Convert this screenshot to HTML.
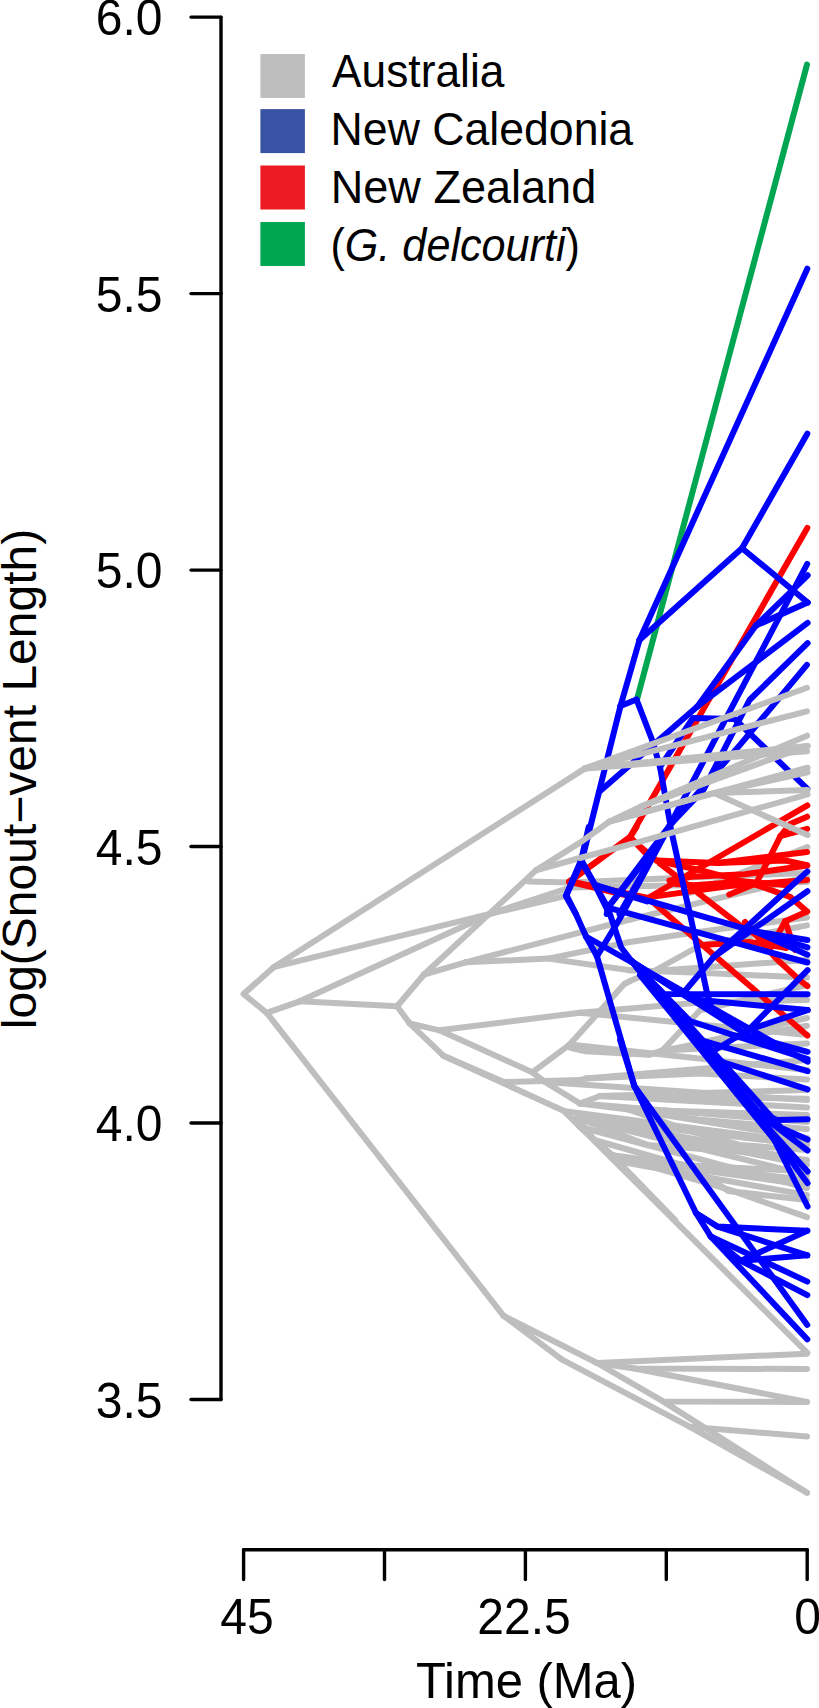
<!DOCTYPE html><html><head><meta charset="utf-8"><style>html,body{margin:0;padding:0;background:#fff;overflow:hidden}svg{display:block}</style></head><body><svg width="819" height="1708" viewBox="0 0 819 1708">
<rect width="819" height="1708" fill="#fff"/>
<path d="M273.6 967.2 L243.5 994.0 L266.7 1012.8" fill="none" stroke="#bebebe" stroke-width="6.0" stroke-linecap="round" stroke-linejoin="round"/>
<path d="M273.6 967.2 L585.0 768.4" fill="none" stroke="#bebebe" stroke-width="6.0" stroke-linecap="round" stroke-linejoin="round"/>
<path d="M273.6 967.2 L490.8 913.7 L562.8 896.6" fill="none" stroke="#bebebe" stroke-width="6.0" stroke-linecap="round" stroke-linejoin="round"/>
<path d="M266.7 1012.8 L299.7 1001.3" fill="none" stroke="#bebebe" stroke-width="6.0" stroke-linecap="round" stroke-linejoin="round"/>
<path d="M299.7 1001.3 L490.8 913.7" fill="none" stroke="#bebebe" stroke-width="6.0" stroke-linecap="round" stroke-linejoin="round"/>
<path d="M299.7 1001.3 L397.1 1006.3" fill="none" stroke="#bebebe" stroke-width="6.0" stroke-linecap="round" stroke-linejoin="round"/>
<path d="M397.1 1006.3 L424.0 974.5" fill="none" stroke="#bebebe" stroke-width="6.0" stroke-linecap="round" stroke-linejoin="round"/>
<path d="M424.0 974.5 L535.9 870.4" fill="none" stroke="#bebebe" stroke-width="6.0" stroke-linecap="round" stroke-linejoin="round"/>
<path d="M424.0 974.5 L465.5 962.3" fill="none" stroke="#bebebe" stroke-width="6.0" stroke-linecap="round" stroke-linejoin="round"/>
<path d="M397.1 1006.3 L409.6 1023.3" fill="none" stroke="#bebebe" stroke-width="6.0" stroke-linecap="round" stroke-linejoin="round"/>
<path d="M545.0 1082.0 L807.0 1100.0" fill="none" stroke="#bebebe" stroke-width="6.0" stroke-linecap="round" stroke-linejoin="round"/>
<path d="M580.0 1103.5 L807.0 1122.0" fill="none" stroke="#bebebe" stroke-width="6.0" stroke-linecap="round" stroke-linejoin="round"/>
<path d="M564.6 1111.3 L807.0 1143.0" fill="none" stroke="#bebebe" stroke-width="6.0" stroke-linecap="round" stroke-linejoin="round"/>
<path d="M577.0 1118.0 L807.0 1165.0" fill="none" stroke="#bebebe" stroke-width="6.0" stroke-linecap="round" stroke-linejoin="round"/>
<path d="M580.0 1127.0 L807.0 1188.0" fill="none" stroke="#bebebe" stroke-width="6.0" stroke-linecap="round" stroke-linejoin="round"/>
<path d="M580.0 1127.0 L612.0 1155.2 L740.0 1172.3 L807.0 1180.0" fill="none" stroke="#bebebe" stroke-width="6.0" stroke-linecap="round" stroke-linejoin="round"/>
<path d="M612.0 1155.2 L675.2 1220.0" fill="none" stroke="#bebebe" stroke-width="6.0" stroke-linecap="round" stroke-linejoin="round"/>
<path d="M577.0 1118.0 L647.9 1145.0 L740.0 1151.8 L807.0 1160.0" fill="none" stroke="#bebebe" stroke-width="6.0" stroke-linecap="round" stroke-linejoin="round"/>
<path d="M628.4 1109.4 L690.6 1131.3 L740.0 1145.0 L807.0 1150.0" fill="none" stroke="#bebebe" stroke-width="6.0" stroke-linecap="round" stroke-linejoin="round"/>
<path d="M612.0 1155.2 L695.7 1168.9 L728.2 1191.1 L807.0 1200.0" fill="none" stroke="#bebebe" stroke-width="6.0" stroke-linecap="round" stroke-linejoin="round"/>
<path d="M594.2 1140.0 L620.5 1162.0 L740.0 1172.3" fill="none" stroke="#bebebe" stroke-width="6.0" stroke-linecap="round" stroke-linejoin="round"/>
<path d="M569.6 1044.6 L807.0 1070.0" fill="none" stroke="#bebebe" stroke-width="6.0" stroke-linecap="round" stroke-linejoin="round"/>
<path d="M580.0 1012.7 L807.0 1035.0" fill="none" stroke="#bebebe" stroke-width="6.0" stroke-linecap="round" stroke-linejoin="round"/>
<path d="M409.6 1023.3 L439.5 1030.3" fill="none" stroke="#bebebe" stroke-width="6.0" stroke-linecap="round" stroke-linejoin="round"/>
<path d="M439.5 1030.3 L580.0 1012.7" fill="none" stroke="#bebebe" stroke-width="6.0" stroke-linecap="round" stroke-linejoin="round"/>
<path d="M439.5 1030.3 L532.3 1072.3" fill="none" stroke="#bebebe" stroke-width="6.0" stroke-linecap="round" stroke-linejoin="round"/>
<path d="M532.3 1072.3 L569.6 1044.6" fill="none" stroke="#bebebe" stroke-width="6.0" stroke-linecap="round" stroke-linejoin="round"/>
<path d="M569.6 1044.6 L624.3 984.0 L630.0 981.0" fill="none" stroke="#bebebe" stroke-width="6.0" stroke-linecap="round" stroke-linejoin="round"/>
<path d="M569.6 1044.6 L600.0 1050.0 L630.0 1054.3" fill="none" stroke="#bebebe" stroke-width="6.0" stroke-linecap="round" stroke-linejoin="round"/>
<path d="M532.3 1072.3 L545.0 1082.0 L580.0 1103.5" fill="none" stroke="#bebebe" stroke-width="6.0" stroke-linecap="round" stroke-linejoin="round"/>
<path d="M409.6 1023.3 L443.4 1055.7" fill="none" stroke="#bebebe" stroke-width="6.0" stroke-linecap="round" stroke-linejoin="round"/>
<path d="M443.4 1055.7 L504.0 1082.0 L580.0 1080.1" fill="none" stroke="#bebebe" stroke-width="6.0" stroke-linecap="round" stroke-linejoin="round"/>
<path d="M443.4 1055.7 L564.6 1111.3 L580.0 1127.0" fill="none" stroke="#bebebe" stroke-width="6.0" stroke-linecap="round" stroke-linejoin="round"/>
<path d="M266.7 1012.8 L503.6 1315.8" fill="none" stroke="#bebebe" stroke-width="6.0" stroke-linecap="round" stroke-linejoin="round"/>
<path d="M535.9 870.4 L580.0 842.6" fill="none" stroke="#bebebe" stroke-width="6.0" stroke-linecap="round" stroke-linejoin="round"/>
<path d="M535.9 870.4 L580.0 858.0" fill="none" stroke="#bebebe" stroke-width="6.0" stroke-linecap="round" stroke-linejoin="round"/>
<path d="M465.5 962.3 L548.1 958.6" fill="none" stroke="#bebebe" stroke-width="6.0" stroke-linecap="round" stroke-linejoin="round"/>
<path d="M548.1 958.6 L630.0 942.0" fill="none" stroke="#bebebe" stroke-width="6.0" stroke-linecap="round" stroke-linejoin="round"/>
<path d="M548.1 958.6 L630.0 970.3" fill="none" stroke="#bebebe" stroke-width="6.0" stroke-linecap="round" stroke-linejoin="round"/>
<path d="M465.5 962.3 L630.0 919.5" fill="none" stroke="#bebebe" stroke-width="6.0" stroke-linecap="round" stroke-linejoin="round"/>
<path d="M564.6 1111.3 L807.3 1352.9" fill="none" stroke="#bebebe" stroke-width="6.0" stroke-linecap="round" stroke-linejoin="round"/>
<path d="M503.6 1315.8 L562.0 1359.7" fill="none" stroke="#bebebe" stroke-width="6.0" stroke-linecap="round" stroke-linejoin="round"/>
<path d="M503.6 1315.8 L597.1 1363.0" fill="none" stroke="#bebebe" stroke-width="6.0" stroke-linecap="round" stroke-linejoin="round"/>
<path d="M597.1 1363.0 L807.0 1353.7" fill="none" stroke="#bebebe" stroke-width="6.0" stroke-linecap="round" stroke-linejoin="round"/>
<path d="M597.1 1363.0 L634.5 1368.5 L807.0 1369.0" fill="none" stroke="#bebebe" stroke-width="6.0" stroke-linecap="round" stroke-linejoin="round"/>
<path d="M634.5 1368.5 L807.0 1402.0" fill="none" stroke="#bebebe" stroke-width="6.0" stroke-linecap="round" stroke-linejoin="round"/>
<path d="M597.1 1363.0 L663.1 1401.4 L807.0 1402.0" fill="none" stroke="#bebebe" stroke-width="6.0" stroke-linecap="round" stroke-linejoin="round"/>
<path d="M663.1 1401.4 L807.0 1492.7" fill="none" stroke="#bebebe" stroke-width="6.0" stroke-linecap="round" stroke-linejoin="round"/>
<path d="M689.5 1426.7 L807.0 1436.5" fill="none" stroke="#bebebe" stroke-width="6.0" stroke-linecap="round" stroke-linejoin="round"/>
<path d="M562.0 1359.7 L689.5 1426.7 L807.0 1492.7" fill="none" stroke="#bebebe" stroke-width="6.0" stroke-linecap="round" stroke-linejoin="round"/>
<path d="M528.6 881.4 L570.0 882.6 L700.0 877.1 L807.0 873.0" fill="none" stroke="#bebebe" stroke-width="6.0" stroke-linecap="round" stroke-linejoin="round"/>
<path d="M490.8 913.7 L570.0 887.5 L700.0 885.0 L807.0 882.0" fill="none" stroke="#bebebe" stroke-width="6.0" stroke-linecap="round" stroke-linejoin="round"/>
<path d="M630.0 919.5 L700.0 902.7 L807.0 877.0" fill="none" stroke="#bebebe" stroke-width="6.0" stroke-linecap="round" stroke-linejoin="round"/>
<path d="M630.0 942.0 L700.0 931.8 L807.0 917.6" fill="none" stroke="#bebebe" stroke-width="6.0" stroke-linecap="round" stroke-linejoin="round"/>
<path d="M630.0 970.3 L700.0 972.8 L807.0 977.6" fill="none" stroke="#bebebe" stroke-width="6.0" stroke-linecap="round" stroke-linejoin="round"/>
<path d="M630.0 981.0 L654.0 971.0 L700.0 945.5 L807.0 925.4" fill="none" stroke="#bebebe" stroke-width="6.0" stroke-linecap="round" stroke-linejoin="round"/>
<path d="M654.0 971.0 L807.0 960.0" fill="none" stroke="#bebebe" stroke-width="6.0" stroke-linecap="round" stroke-linejoin="round"/>
<path d="M580.0 1012.7 L700.0 1002.6 L807.0 1000.0" fill="none" stroke="#bebebe" stroke-width="6.0" stroke-linecap="round" stroke-linejoin="round"/>
<path d="M570.3 1047.9 L585.6 1051.3 L648.9 1054.7" fill="none" stroke="#bebebe" stroke-width="6.0" stroke-linecap="round" stroke-linejoin="round"/>
<path d="M648.9 1054.7 L807.0 1018.0" fill="none" stroke="#bebebe" stroke-width="6.0" stroke-linecap="round" stroke-linejoin="round"/>
<path d="M648.9 1054.7 L662.6 1050.4 L807.0 1025.8" fill="none" stroke="#bebebe" stroke-width="6.0" stroke-linecap="round" stroke-linejoin="round"/>
<path d="M662.6 1050.4 L807.0 1043.4" fill="none" stroke="#bebebe" stroke-width="6.0" stroke-linecap="round" stroke-linejoin="round"/>
<path d="M662.6 1050.4 L700.0 1010.3 L807.0 985.0" fill="none" stroke="#bebebe" stroke-width="6.0" stroke-linecap="round" stroke-linejoin="round"/>
<path d="M580.0 1080.1 L585.6 1078.6 L700.0 1073.5 L807.0 1079.4" fill="none" stroke="#bebebe" stroke-width="6.0" stroke-linecap="round" stroke-linejoin="round"/>
<path d="M580.0 1103.5 L600.0 1096.0 L807.0 1098.7" fill="none" stroke="#bebebe" stroke-width="6.0" stroke-linecap="round" stroke-linejoin="round"/>
<path d="M600.0 1096.0 L807.0 1107.5" fill="none" stroke="#bebebe" stroke-width="6.0" stroke-linecap="round" stroke-linejoin="round"/>
<path d="M580.0 1103.5 L628.4 1109.4 L700.0 1119.7 L807.0 1129.0" fill="none" stroke="#bebebe" stroke-width="6.0" stroke-linecap="round" stroke-linejoin="round"/>
<path d="M628.4 1109.4 L807.0 1115.0" fill="none" stroke="#bebebe" stroke-width="6.0" stroke-linecap="round" stroke-linejoin="round"/>
<path d="M580.0 1127.0 L577.0 1118.0 L700.0 1140.0 L807.0 1160.9" fill="none" stroke="#bebebe" stroke-width="6.0" stroke-linecap="round" stroke-linejoin="round"/>
<path d="M577.0 1118.0 L807.0 1145.0" fill="none" stroke="#bebebe" stroke-width="6.0" stroke-linecap="round" stroke-linejoin="round"/>
<path d="M577.0 1118.0 L807.0 1175.0" fill="none" stroke="#bebebe" stroke-width="6.0" stroke-linecap="round" stroke-linejoin="round"/>
<path d="M577.0 1118.0 L594.2 1140.0 L700.0 1170.0 L807.0 1185.0" fill="none" stroke="#bebebe" stroke-width="6.0" stroke-linecap="round" stroke-linejoin="round"/>
<path d="M580.0 1127.0 L619.4 1161.6 L800.0 1171.1" fill="none" stroke="#bebebe" stroke-width="6.0" stroke-linecap="round" stroke-linejoin="round"/>
<path d="M613.0 1155.2 L730.5 1190.2 L807.0 1217.2" fill="none" stroke="#bebebe" stroke-width="6.0" stroke-linecap="round" stroke-linejoin="round"/>
<path d="M619.4 1161.6 L807.0 1195.0" fill="none" stroke="#bebebe" stroke-width="6.0" stroke-linecap="round" stroke-linejoin="round"/>
<path d="M585.6 1078.6 L807.0 1060.0" fill="none" stroke="#bebebe" stroke-width="6.0" stroke-linecap="round" stroke-linejoin="round"/>
<path d="M600.0 1096.0 L807.0 1090.0" fill="none" stroke="#bebebe" stroke-width="6.0" stroke-linecap="round" stroke-linejoin="round"/>
<path d="M628.4 1109.4 L807.0 1138.0" fill="none" stroke="#bebebe" stroke-width="6.0" stroke-linecap="round" stroke-linejoin="round"/>
<path d="M690.0 893.0 L807.4 847.1" fill="none" stroke="#bebebe" stroke-width="6.0" stroke-linecap="round" stroke-linejoin="round"/>
<path d="M570.8 880.9 L630.1 836.9" fill="none" stroke="#ff0000" stroke-width="6.0" stroke-linecap="round" stroke-linejoin="round"/>
<path d="M630.1 836.9 L807.3 527.9" fill="none" stroke="#ff0000" stroke-width="6.0" stroke-linecap="round" stroke-linejoin="round"/>
<path d="M569.0 881.7 L630.1 837.1 L636.5 827.0" fill="none" stroke="#ff0000" stroke-width="6.0" stroke-linecap="round" stroke-linejoin="round"/>
<path d="M630.1 837.1 L647.0 854.6" fill="none" stroke="#ff0000" stroke-width="6.0" stroke-linecap="round" stroke-linejoin="round"/>
<path d="M569.0 881.7 L647.0 900.3" fill="none" stroke="#ff0000" stroke-width="6.0" stroke-linecap="round" stroke-linejoin="round"/>
<path d="M571.0 881.5 L648.0 898.0" fill="none" stroke="#ff0000" stroke-width="6.0" stroke-linecap="round" stroke-linejoin="round"/>
<path d="M648.0 898.0 L807.4 805.4" fill="none" stroke="#ff0000" stroke-width="6.0" stroke-linecap="round" stroke-linejoin="round"/>
<path d="M648.0 898.0 L702.4 945.0 L807.4 1035.6" fill="none" stroke="#ff0000" stroke-width="6.0" stroke-linecap="round" stroke-linejoin="round"/>
<path d="M702.4 945.0 L749.7 942.0 L785.9 947.9" fill="none" stroke="#ff0000" stroke-width="6.0" stroke-linecap="round" stroke-linejoin="round"/>
<path d="M745.0 922.0 L776.1 958.6 L799.5 980.0 L807.4 986.2" fill="none" stroke="#ff0000" stroke-width="6.0" stroke-linecap="round" stroke-linejoin="round"/>
<path d="M629.7 837.4 L656.4 860.5 L700.2 870.2 L756.1 884.8 L790.1 896.9 L807.1 911.5" fill="none" stroke="#ff0000" stroke-width="6.0" stroke-linecap="round" stroke-linejoin="round"/>
<path d="M656.4 860.5 L717.2 862.9 L807.1 852.0" fill="none" stroke="#ff0000" stroke-width="6.0" stroke-linecap="round" stroke-linejoin="round"/>
<path d="M651.6 896.9 L729.3 886.0 L807.1 879.9" fill="none" stroke="#ff0000" stroke-width="6.0" stroke-linecap="round" stroke-linejoin="round"/>
<path d="M756.1 883.5 L770.6 855.6 L780.4 836.2 L790.1 824.0 L807.1 816.7" fill="none" stroke="#ff0000" stroke-width="6.0" stroke-linecap="round" stroke-linejoin="round"/>
<path d="M780.4 836.2 L807.1 828.9" fill="none" stroke="#ff0000" stroke-width="6.0" stroke-linecap="round" stroke-linejoin="round"/>
<path d="M729.3 894.5 L756.1 883.5" fill="none" stroke="#ff0000" stroke-width="6.0" stroke-linecap="round" stroke-linejoin="round"/>
<path d="M807.1 911.5 L785.2 921.2 L770.6 947.9" fill="none" stroke="#ff0000" stroke-width="6.0" stroke-linecap="round" stroke-linejoin="round"/>
<path d="M785.2 921.2 L794.9 949.9" fill="none" stroke="#ff0000" stroke-width="6.0" stroke-linecap="round" stroke-linejoin="round"/>
<path d="M717.2 862.9 L785.2 860.5 L807.1 865.3" fill="none" stroke="#ff0000" stroke-width="6.0" stroke-linecap="round" stroke-linejoin="round"/>
<path d="M659.7 863.3 L745.0 929.2 L785.9 947.9" fill="none" stroke="#ff0000" stroke-width="6.0" stroke-linecap="round" stroke-linejoin="round"/>
<path d="M669.4 880.4 L691.4 876.7 L745.0 874.3 L807.4 865.5" fill="none" stroke="#ff0000" stroke-width="6.0" stroke-linecap="round" stroke-linejoin="round"/>
<path d="M676.0 884.0 L693.8 885.3 L745.0 881.6 L785.0 885.0" fill="none" stroke="#ff0000" stroke-width="6.0" stroke-linecap="round" stroke-linejoin="round"/>
<path d="M637.0 699.4 L807.0 64.6" fill="none" stroke="#00a651" stroke-width="6.0" stroke-linecap="round" stroke-linejoin="round"/>
<path d="M639.5 640.0 L807.3 268.7" fill="none" stroke="#0000ff" stroke-width="6.0" stroke-linecap="round" stroke-linejoin="round"/>
<path d="M639.5 640.0 L742.0 548.2" fill="none" stroke="#0000ff" stroke-width="6.0" stroke-linecap="round" stroke-linejoin="round"/>
<path d="M742.0 548.2 L807.3 433.7" fill="none" stroke="#0000ff" stroke-width="6.0" stroke-linecap="round" stroke-linejoin="round"/>
<path d="M742.0 548.2 L807.7 602.5" fill="none" stroke="#0000ff" stroke-width="6.0" stroke-linecap="round" stroke-linejoin="round"/>
<path d="M620.5 706.0 L639.5 640.0" fill="none" stroke="#0000ff" stroke-width="6.0" stroke-linecap="round" stroke-linejoin="round"/>
<path d="M620.5 706.0 L636.5 699.5" fill="none" stroke="#0000ff" stroke-width="6.0" stroke-linecap="round" stroke-linejoin="round"/>
<path d="M636.5 699.5 L652.5 741.0" fill="none" stroke="#0000ff" stroke-width="6.0" stroke-linecap="round" stroke-linejoin="round"/>
<path d="M599.0 792.0 L620.5 706.0" fill="none" stroke="#0000ff" stroke-width="6.0" stroke-linecap="round" stroke-linejoin="round"/>
<path d="M599.0 792.0 L697.4 706.4" fill="none" stroke="#0000ff" stroke-width="6.0" stroke-linecap="round" stroke-linejoin="round"/>
<path d="M566.4 895.2 L581.5 862.0" fill="none" stroke="#0000ff" stroke-width="6.0" stroke-linecap="round" stroke-linejoin="round"/>
<path d="M581.5 862.0 L599.0 792.0" fill="none" stroke="#0000ff" stroke-width="6.0" stroke-linecap="round" stroke-linejoin="round"/>
<path d="M581.5 862.0 L595.2 885.5" fill="none" stroke="#0000ff" stroke-width="6.0" stroke-linecap="round" stroke-linejoin="round"/>
<path d="M595.2 885.5 L607.4 910.0" fill="none" stroke="#0000ff" stroke-width="6.0" stroke-linecap="round" stroke-linejoin="round"/>
<path d="M697.4 706.4 L755.9 625.6" fill="none" stroke="#0000ff" stroke-width="6.0" stroke-linecap="round" stroke-linejoin="round"/>
<path d="M755.9 625.6 L807.7 575.3" fill="none" stroke="#0000ff" stroke-width="6.0" stroke-linecap="round" stroke-linejoin="round"/>
<path d="M755.9 625.6 L807.7 602.5" fill="none" stroke="#0000ff" stroke-width="6.0" stroke-linecap="round" stroke-linejoin="round"/>
<path d="M697.4 706.4 L807.6 622.9" fill="none" stroke="#0000ff" stroke-width="6.0" stroke-linecap="round" stroke-linejoin="round"/>
<path d="M575.9 914.0 L565.8 896.0 L581.2 859.9 L588.7 827.0" fill="none" stroke="#0000ff" stroke-width="6.0" stroke-linecap="round" stroke-linejoin="round"/>
<path d="M581.2 859.9 L595.1 884.9 L647.0 901.4" fill="none" stroke="#0000ff" stroke-width="6.0" stroke-linecap="round" stroke-linejoin="round"/>
<path d="M595.1 884.9 L607.8 907.7 L606.7 914.0" fill="none" stroke="#0000ff" stroke-width="6.0" stroke-linecap="round" stroke-linejoin="round"/>
<path d="M607.8 907.7 L647.0 857.8" fill="none" stroke="#0000ff" stroke-width="6.0" stroke-linecap="round" stroke-linejoin="round"/>
<path d="M619.5 914.0 L647.0 865.2" fill="none" stroke="#0000ff" stroke-width="6.0" stroke-linecap="round" stroke-linejoin="round"/>
<path d="M620.1 1040.0 L634.3 1085.9 L696.0 1213.0" fill="none" stroke="#0000ff" stroke-width="6.0" stroke-linecap="round" stroke-linejoin="round"/>
<path d="M696.0 1213.0 L717.6 1226.6 L807.3 1230.7" fill="none" stroke="#0000ff" stroke-width="6.0" stroke-linecap="round" stroke-linejoin="round"/>
<path d="M717.6 1226.6 L807.3 1255.3" fill="none" stroke="#0000ff" stroke-width="6.0" stroke-linecap="round" stroke-linejoin="round"/>
<path d="M696.0 1213.0 L710.7 1236.4" fill="none" stroke="#0000ff" stroke-width="6.0" stroke-linecap="round" stroke-linejoin="round"/>
<path d="M710.7 1236.4 L807.3 1281.6" fill="none" stroke="#0000ff" stroke-width="6.0" stroke-linecap="round" stroke-linejoin="round"/>
<path d="M710.7 1236.4 L741.0 1260.8" fill="none" stroke="#0000ff" stroke-width="6.0" stroke-linecap="round" stroke-linejoin="round"/>
<path d="M741.0 1260.8 L807.3 1230.7" fill="none" stroke="#0000ff" stroke-width="6.0" stroke-linecap="round" stroke-linejoin="round"/>
<path d="M741.0 1260.8 L807.3 1255.3" fill="none" stroke="#0000ff" stroke-width="6.0" stroke-linecap="round" stroke-linejoin="round"/>
<path d="M741.0 1260.8 L807.3 1295.2" fill="none" stroke="#0000ff" stroke-width="6.0" stroke-linecap="round" stroke-linejoin="round"/>
<path d="M710.7 1236.4 L807.3 1339.4" fill="none" stroke="#0000ff" stroke-width="6.0" stroke-linecap="round" stroke-linejoin="round"/>
<path d="M634.3 1085.9 L807.3 1324.9" fill="none" stroke="#0000ff" stroke-width="6.0" stroke-linecap="round" stroke-linejoin="round"/>
<path d="M566.4 895.2 L575.9 914.0 L586.0 936.5" fill="none" stroke="#0000ff" stroke-width="6.0" stroke-linecap="round" stroke-linejoin="round"/>
<path d="M586.0 936.5 L597.0 956.3" fill="none" stroke="#0000ff" stroke-width="6.0" stroke-linecap="round" stroke-linejoin="round"/>
<path d="M597.0 956.3 L634.3 1085.9" fill="none" stroke="#0000ff" stroke-width="6.0" stroke-linecap="round" stroke-linejoin="round"/>
<path d="M597.0 956.3 L619.0 920.0 L670.0 825.0" fill="none" stroke="#0000ff" stroke-width="6.0" stroke-linecap="round" stroke-linejoin="round"/>
<path d="M607.8 907.7 L670.0 825.0" fill="none" stroke="#0000ff" stroke-width="6.0" stroke-linecap="round" stroke-linejoin="round"/>
<path d="M670.0 825.0 L684.4 890.0 L689.5 912.0 L706.8 991.8 L712.0 1010.0" fill="none" stroke="#0000ff" stroke-width="6.0" stroke-linecap="round" stroke-linejoin="round"/>
<path d="M607.8 907.7 L621.2 947.5 L632.0 961.5" fill="none" stroke="#0000ff" stroke-width="6.0" stroke-linecap="round" stroke-linejoin="round"/>
<path d="M586.0 936.5 L807.6 1061.7" fill="none" stroke="#0000ff" stroke-width="6.0" stroke-linecap="round" stroke-linejoin="round"/>
<path d="M632.0 961.5 L664.0 994.0 L807.6 994.2" fill="none" stroke="#0000ff" stroke-width="6.0" stroke-linecap="round" stroke-linejoin="round"/>
<path d="M632.0 961.5 L690.0 999.0 L807.6 1010.1" fill="none" stroke="#0000ff" stroke-width="6.0" stroke-linecap="round" stroke-linejoin="round"/>
<path d="M715.0 1050.0 L748.6 1029.8" fill="none" stroke="#0000ff" stroke-width="6.0" stroke-linecap="round" stroke-linejoin="round"/>
<path d="M748.6 1029.8 L807.6 1010.1" fill="none" stroke="#0000ff" stroke-width="6.0" stroke-linecap="round" stroke-linejoin="round"/>
<path d="M748.6 1029.8 L807.6 970.2" fill="none" stroke="#0000ff" stroke-width="6.0" stroke-linecap="round" stroke-linejoin="round"/>
<path d="M632.0 961.5 L690.0 1021.0 L807.6 1059.1" fill="none" stroke="#0000ff" stroke-width="6.0" stroke-linecap="round" stroke-linejoin="round"/>
<path d="M632.0 961.5 L748.6 1035.7 L807.6 1051.8" fill="none" stroke="#0000ff" stroke-width="6.0" stroke-linecap="round" stroke-linejoin="round"/>
<path d="M632.0 961.5 L700.0 1040.0 L807.6 1071.2" fill="none" stroke="#0000ff" stroke-width="6.0" stroke-linecap="round" stroke-linejoin="round"/>
<path d="M710.0 1058.0 L807.6 1089.4" fill="none" stroke="#0000ff" stroke-width="6.0" stroke-linecap="round" stroke-linejoin="round"/>
<path d="M632.0 961.5 L755.0 1110.0 L777.0 1120.0 L807.6 1119.2" fill="none" stroke="#0000ff" stroke-width="6.0" stroke-linecap="round" stroke-linejoin="round"/>
<path d="M632.0 961.5 L768.3 1128.0 L807.6 1206.5" fill="none" stroke="#0000ff" stroke-width="6.0" stroke-linecap="round" stroke-linejoin="round"/>
<path d="M768.3 1128.0 L807.6 1171.6" fill="none" stroke="#0000ff" stroke-width="6.0" stroke-linecap="round" stroke-linejoin="round"/>
<path d="M632.0 961.5 L781.4 1128.0 L807.6 1139.6" fill="none" stroke="#0000ff" stroke-width="6.0" stroke-linecap="round" stroke-linejoin="round"/>
<path d="M632.0 961.5 L762.0 1116.0 L807.6 1150.5" fill="none" stroke="#0000ff" stroke-width="6.0" stroke-linecap="round" stroke-linejoin="round"/>
<path d="M640.0 975.0 L787.2 1155.6 L807.6 1183.2" fill="none" stroke="#0000ff" stroke-width="6.0" stroke-linecap="round" stroke-linejoin="round"/>
<path d="M636.0 966.0 L745.0 1100.0 L775.0 1140.0" fill="none" stroke="#0000ff" stroke-width="6.0" stroke-linecap="round" stroke-linejoin="round"/>
<path d="M714.0 956.8 L807.4 891.2" fill="none" stroke="#0000ff" stroke-width="6.0" stroke-linecap="round" stroke-linejoin="round"/>
<path d="M684.5 991.5 L714.0 956.8 L807.4 871.4" fill="none" stroke="#0000ff" stroke-width="6.0" stroke-linecap="round" stroke-linejoin="round"/>
<path d="M607.8 907.7 L807.4 962.5" fill="none" stroke="#0000ff" stroke-width="6.0" stroke-linecap="round" stroke-linejoin="round"/>
<path d="M595.2 885.5 L754.7 931.3" fill="none" stroke="#0000ff" stroke-width="6.0" stroke-linecap="round" stroke-linejoin="round"/>
<path d="M754.7 931.3 L807.4 940.0" fill="none" stroke="#0000ff" stroke-width="6.0" stroke-linecap="round" stroke-linejoin="round"/>
<path d="M754.7 931.3 L807.4 947.4" fill="none" stroke="#0000ff" stroke-width="6.0" stroke-linecap="round" stroke-linejoin="round"/>
<path d="M754.7 931.3 L807.4 954.7" fill="none" stroke="#0000ff" stroke-width="6.0" stroke-linecap="round" stroke-linejoin="round"/>
<path d="M652.5 741.0 L660.0 767.0 L669.8 821.8" fill="none" stroke="#0000ff" stroke-width="6.0" stroke-linecap="round" stroke-linejoin="round"/>
<path d="M670.0 825.0 L807.2 563.9" fill="none" stroke="#0000ff" stroke-width="6.0" stroke-linecap="round" stroke-linejoin="round"/>
<path d="M670.0 825.0 L703.4 790.0 L749.5 700.0 L807.6 643.2" fill="none" stroke="#0000ff" stroke-width="6.0" stroke-linecap="round" stroke-linejoin="round"/>
<path d="M670.0 825.0 L740.0 744.9 L806.9 664.9" fill="none" stroke="#0000ff" stroke-width="6.0" stroke-linecap="round" stroke-linejoin="round"/>
<path d="M660.0 767.0 L693.0 718.0 L734.7 719.0 L807.4 788.8" fill="none" stroke="#0000ff" stroke-width="6.0" stroke-linecap="round" stroke-linejoin="round"/>
<path d="M585.0 768.4 L807.0 687.8" fill="none" stroke="#bebebe" stroke-width="6.0" stroke-linecap="round" stroke-linejoin="round"/>
<path d="M585.0 768.4 L807.0 711.3" fill="none" stroke="#bebebe" stroke-width="6.0" stroke-linecap="round" stroke-linejoin="round"/>
<path d="M585.0 768.4 L807.0 751.3" fill="none" stroke="#bebebe" stroke-width="6.0" stroke-linecap="round" stroke-linejoin="round"/>
<path d="M580.0 842.6 L609.2 821.7 L807.6 767.7" fill="none" stroke="#bebebe" stroke-width="6.0" stroke-linecap="round" stroke-linejoin="round"/>
<path d="M580.0 858.0 L638.4 842.1 L807.6 794.4" fill="none" stroke="#bebebe" stroke-width="6.0" stroke-linecap="round" stroke-linejoin="round"/>
<path d="M585.0 768.4 L807.6 745.9" fill="none" stroke="#bebebe" stroke-width="6.0" stroke-linecap="round" stroke-linejoin="round"/>
<path d="M609.2 821.7 L714.0 793.0 L807.6 835.1" fill="none" stroke="#bebebe" stroke-width="6.0" stroke-linecap="round" stroke-linejoin="round"/>
<path d="M714.0 793.0 L807.6 790.0" fill="none" stroke="#bebebe" stroke-width="6.0" stroke-linecap="round" stroke-linejoin="round"/>
<path d="M714.0 793.0 L807.6 772.2" fill="none" stroke="#bebebe" stroke-width="6.0" stroke-linecap="round" stroke-linejoin="round"/>
<path d="M609.2 821.7 L640.0 806.9 L807.6 745.9" fill="none" stroke="#bebebe" stroke-width="6.0" stroke-linecap="round" stroke-linejoin="round"/>
<path d="M640.0 806.9 L807.0 735.7" fill="none" stroke="#bebebe" stroke-width="6.0" stroke-linecap="round" stroke-linejoin="round"/>
<path d="M221 17.1 L221 1399.5" stroke="#000" stroke-width="3.4" fill="none" stroke-linecap="round"/>
<path d="M191 17.1 L221 17.1" stroke="#000" stroke-width="3.4" fill="none" stroke-linecap="round"/>
<text transform="translate(162.5 17.1) scale(1 1.06)" x="0" y="17.3" text-anchor="end" font-family="Liberation Sans, sans-serif" font-size="48" fill="#000">6.0</text>
<path d="M191 293.6 L221 293.6" stroke="#000" stroke-width="3.4" fill="none" stroke-linecap="round"/>
<text transform="translate(162.5 293.6) scale(1 1.06)" x="0" y="17.3" text-anchor="end" font-family="Liberation Sans, sans-serif" font-size="48" fill="#000">5.5</text>
<path d="M191 570.1 L221 570.1" stroke="#000" stroke-width="3.4" fill="none" stroke-linecap="round"/>
<text transform="translate(162.5 570.1) scale(1 1.06)" x="0" y="17.3" text-anchor="end" font-family="Liberation Sans, sans-serif" font-size="48" fill="#000">5.0</text>
<path d="M191 846.5 L221 846.5" stroke="#000" stroke-width="3.4" fill="none" stroke-linecap="round"/>
<text transform="translate(162.5 846.5) scale(1 1.06)" x="0" y="17.3" text-anchor="end" font-family="Liberation Sans, sans-serif" font-size="48" fill="#000">4.5</text>
<path d="M191 1123.0 L221 1123.0" stroke="#000" stroke-width="3.4" fill="none" stroke-linecap="round"/>
<text transform="translate(162.5 1123.0) scale(1 1.06)" x="0" y="17.3" text-anchor="end" font-family="Liberation Sans, sans-serif" font-size="48" fill="#000">4.0</text>
<path d="M191 1399.5 L221 1399.5" stroke="#000" stroke-width="3.4" fill="none" stroke-linecap="round"/>
<text transform="translate(162.5 1399.5) scale(1 1.06)" x="0" y="17.3" text-anchor="end" font-family="Liberation Sans, sans-serif" font-size="48" fill="#000">3.5</text>
<path d="M243.6 1549.7 L807.2 1549.7" stroke="#000" stroke-width="3.4" fill="none" stroke-linecap="round"/>
<path d="M243.6 1549.7 L243.6 1579.6" stroke="#000" stroke-width="3.4" fill="none" stroke-linecap="round"/>
<path d="M384.5 1549.7 L384.5 1579.6" stroke="#000" stroke-width="3.4" fill="none" stroke-linecap="round"/>
<path d="M525.4 1549.7 L525.4 1579.6" stroke="#000" stroke-width="3.4" fill="none" stroke-linecap="round"/>
<path d="M666.3 1549.7 L666.3 1579.6" stroke="#000" stroke-width="3.4" fill="none" stroke-linecap="round"/>
<path d="M807.2 1549.7 L807.2 1579.6" stroke="#000" stroke-width="3.4" fill="none" stroke-linecap="round"/>
<text transform="translate(247 1616.6) scale(1 1.06)" x="0" y="16.7" text-anchor="middle" font-family="Liberation Sans, sans-serif" font-size="48" fill="#000">45</text>
<text transform="translate(524 1616.6) scale(1 1.06)" x="0" y="16.7" text-anchor="middle" font-family="Liberation Sans, sans-serif" font-size="48" fill="#000">22.5</text>
<text transform="translate(807.5 1616.6) scale(1 1.06)" x="0" y="16.7" text-anchor="middle" font-family="Liberation Sans, sans-serif" font-size="48" fill="#000">0</text>
<text transform="translate(526.5 1697.7) scale(1.02 1.05)" x="0" y="0" text-anchor="middle" font-family="Liberation Sans, sans-serif" font-size="48" fill="#000">Time (Ma)</text>
<text transform="translate(35.7 779) rotate(-90)" x="0" y="0" text-anchor="middle" font-family="Liberation Sans, sans-serif" font-size="48" fill="#000">log(Snout−vent Length)</text>
<rect x="260.4" y="54.0" width="44.5" height="44" fill="#bebebe"/>
<rect x="260.4" y="109.1" width="44.5" height="44" fill="#3953a4"/>
<rect x="260.4" y="165.5" width="44.5" height="44" fill="#ed1c24"/>
<rect x="260.4" y="222.0" width="44.5" height="44" fill="#00a651"/>
<text x="332" y="87.1" font-family="Liberation Sans, sans-serif" font-size="46" textLength="172.4" lengthAdjust="spacingAndGlyphs" fill="#000">Australia</text>
<text x="330.6" y="144.7" font-family="Liberation Sans, sans-serif" font-size="46" textLength="302.6" lengthAdjust="spacingAndGlyphs" fill="#000">New Caledonia</text>
<text x="330.8" y="203" font-family="Liberation Sans, sans-serif" font-size="46" textLength="265.4" lengthAdjust="spacingAndGlyphs" fill="#000">New Zealand</text>
<text x="330.4" y="261.3" font-family="Liberation Sans, sans-serif" font-size="46" textLength="249.6" lengthAdjust="spacingAndGlyphs" fill="#000">(<tspan font-style="italic">G. delcourti</tspan>)</text>
</svg></body></html>
